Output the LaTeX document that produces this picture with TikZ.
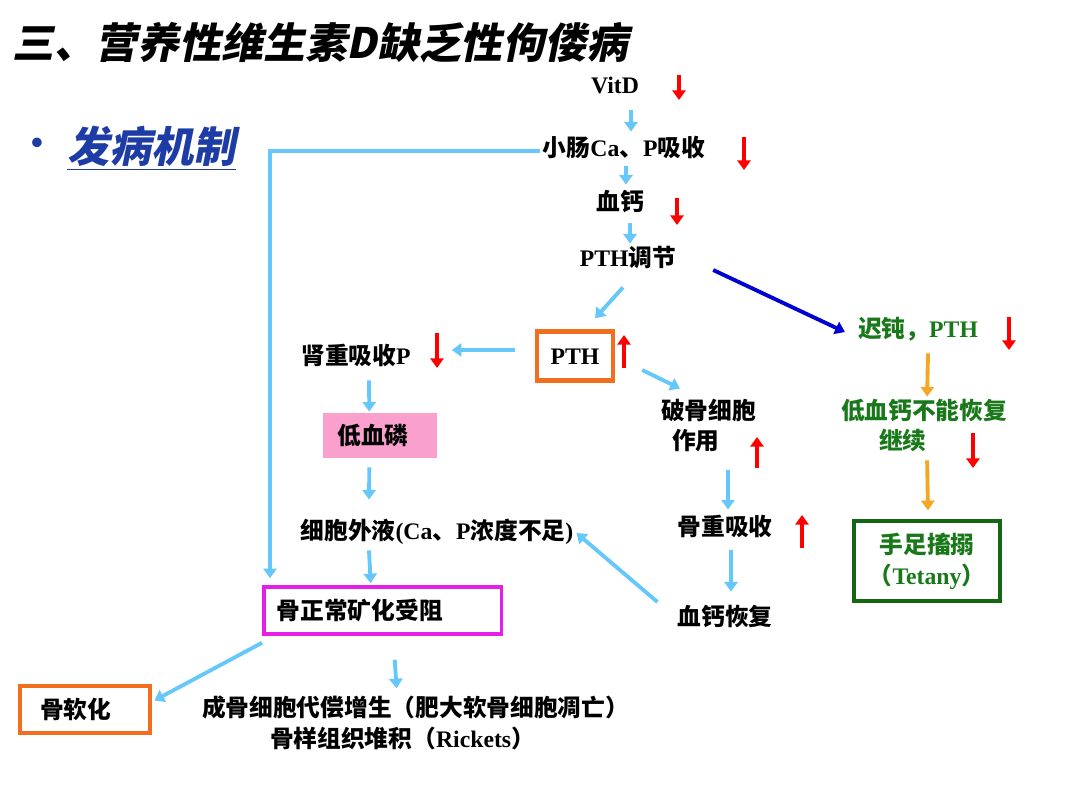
\documentclass[tikz,border=0pt]{standalone}
\usepackage{fontspec}
\usepackage{tikz}
\usetikzlibrary{arrows.meta, positioning, calc}
\setmainfont{Liberation Serif}
\newfontfamily\cjk{Noto Sans CJK SC}
\newfontfamily\cjkslant[FakeSlant=0.2]{Noto Sans CJK SC}
\newcommand{\eng}[1]{{\rmfamily\bfseries #1}}
\definecolor{skyarr}{RGB}{102,200,250}
\definecolor{deepblue}{RGB}{0,0,210}
\definecolor{boxorange}{RGB}{242,110,30}
\definecolor{arrorange}{RGB}{245,166,35}
\definecolor{boxmagenta}{RGB}{230,30,230}
\definecolor{darkgreen}{RGB}{25,120,25}
\definecolor{pinkfill}{RGB}{250,160,205}
\definecolor{titleblue}{RGB}{30,60,165}

\begin{document}
\begin{tikzpicture}[x=0.02cm, y=-0.02cm,
  >={Triangle[length=5.5pt,width=7.5pt]},
  txt/.style={font=\cjk\bfseries\fontsize{13.5}{17.6}\selectfont, inner sep=1pt},
  line/.style={txt, text height=12pt, text depth=2pt},
  lbarrow/.style={->, draw=skyarr, line width=2.2pt},
  redarrow/.style={->, draw=red, line width=2pt},
  orarrow/.style={->, draw=arrorange, line width=2.2pt}]
\useasboundingbox (0,0) rectangle (1080,811);

% 标题
\node[anchor=west, inner sep=0pt, font=\cjkslant\bfseries\fontsize{23.8}{28}\selectfont] (title) at (12,43) {三、营养性维生素D缺乏性佝偻病};
\node[text=titleblue, font=\rmfamily\bfseries\fontsize{20}{24}\selectfont] (bullet) at (37,146) {\textbullet};
\node[anchor=west, inner sep=0pt, text=titleblue, font=\cjkslant\bfseries\fontsize{24}{28}\selectfont] (fabing) at (67,148) {\underline{发病机制}};

% 主线
\node[line] (vitd) at (615,85) {\eng{VitD}};
\node[line] (xiaochang) at (624,148) {小肠\eng{Ca}、\eng{P}吸收};
\node[line] (xuegai) at (620,202) {血钙};
\node[line] (pthtj) at (628,258) {\eng{PTH}调节};
\node[line, draw=boxorange, line width=2.5pt, minimum width=1.52cm, minimum height=0.98cm] (pth) at (575,356) {\eng{PTH}};

% 左支
\node[line] (shen) at (356,356) {肾重吸收\eng{P}};
\node[line, anchor=west, fill=pinkfill, minimum height=0.9cm, text width=1.72cm, inner xsep=0.28cm, align=left] (dixuelin) at (323,435.5) {低血磷};
\node[line] (xibao) at (437,531) {细胞外液\eng{(Ca}、\eng{P}浓度不足\eng{)}};
\node[line, anchor=west, draw=boxmagenta, line width=2pt, minimum height=0.94cm, text width=4.24cm, inner xsep=0.26cm, align=left] (guzc) at (262,610.5) {骨正常矿化受阻};
\node[line, anchor=west, draw=boxorange, line width=2.5pt, minimum height=0.94cm, text width=1.8cm, inner xsep=0.4cm, align=left] (guruanhua) at (18,709.5) {骨软化};
\node[txt, anchor=west, align=left] (chenggu) at (200,722.5) {成骨细胞代偿增生（肥大软骨细胞凋亡）\\\hspace*{1.36cm}骨样组织堆积（\eng{Rickets}）};

% 中支
\node[txt, anchor=west, align=left] (pogu) at (659,425.5) {破骨细胞\\\hspace*{0.22cm}作用};
\node[line] (guzhong) at (725,527) {骨重吸收};
\node[line] (xuegaihf) at (725,617) {血钙恢复};

% 右支
\node[line, text=darkgreen] (chidun) at (918,329) {迟钝，\eng{PTH}};
\node[txt, anchor=west, align=left, text=darkgreen] (dixuegai) at (839,425.5) {低血钙不能恢复\\\hspace*{0.76cm}继续};
\node[txt, draw=darkgreen!85!black, line width=2pt, text=darkgreen, align=center, minimum width=2.92cm, minimum height=1.6cm] (tetany) at (927,561) {手足搐搦\\（\eng{Tetany}）};

% 连线
\draw[lbarrow] ($(vitd.south)+(16,11)$) -- ($(xiaochang.north)+(7,-2)$);
\draw[lbarrow] ($(xiaochang.south)+(2,4)$) -- ($(xuegai.north)+(6,-3)$);
\draw[lbarrow] ($(xuegai.south)+(10,7)$) -- ($(pthtj.north)+(2,0)$);
\draw[lbarrow] ($(pthtj.south)+(-5,15)$) -- ($(pth.north)+(20,-11)$);
\draw[->, draw=deepblue, line width=2.2pt] ($(pthtj.east)+(35,12)$) -- ($(chidun.west)+(-11,3)$);
\draw[lbarrow] ($(pth.west)+(-20,-6)$) -- ($(shen.east)+(39,-6)$);
\draw[lbarrow] ($(pth.east)+(27,14)$) -- ($(pogu.north west)+(21,-8)$);
\draw[lbarrow] ($(pogu.south west)+(69,16)$) -- ($(guzhong.north)+(3,-3)$);
\draw[lbarrow] ($(guzhong.south)+(6,9)$) -- ($(xuegaihf.north)+(6,-11)$);
\draw[lbarrow] ($(xuegaihf.west)+(-18,-15)$) -- ($(xibao.east)+(1,2)$);
\draw[lbarrow] ($(shen.south)+(13,10)$) -- ($(dixuelin.north)+(-11,-1)$);
\draw[lbarrow] ($(dixuelin.south)+(-11,9)$) -- ($(xibao.north)+(-68,-17)$);
\draw[lbarrow] ($(xibao.south)+(-68,5)$) -- ($(guzc.north)+(-12,-2)$);
\draw[lbarrow] ($(xiaochang.west)+(-1,3)$) -| ($(guzc.north west)+(8,-7)$);
\draw[lbarrow] ($(guzc.south west)+(0,7)$) -- ($(guruanhua.east)+(2,-9)$);
\draw[lbarrow] ($(guzc.south)+(12,24)$) -- ($(chenggu.north)+(-19,-5)$);
\draw[orarrow] ($(chidun.south)+(10,10)$) -- ($(dixuegai.north)+(3,0)$);
\draw[orarrow] ($(dixuegai.south)+(3,6)$) -- ($(tetany.north)+(1,-9)$);

% 升降箭头
\draw[redarrow] (679,75) -- (679,100);
\draw[redarrow] (744,137) -- (744,170);
\draw[redarrow] (677,198) -- (677,225);
\draw[redarrow] (624,368) -- (624,335);
\draw[redarrow] (437,333) -- (437,368);
\draw[redarrow] (757,468) -- (757,437);
\draw[redarrow] (802,548) -- (802,515);
\draw[redarrow] (1009,317) -- (1009,350);
\draw[redarrow] (973,433) -- (973,468);

\end{tikzpicture}
\end{document}
